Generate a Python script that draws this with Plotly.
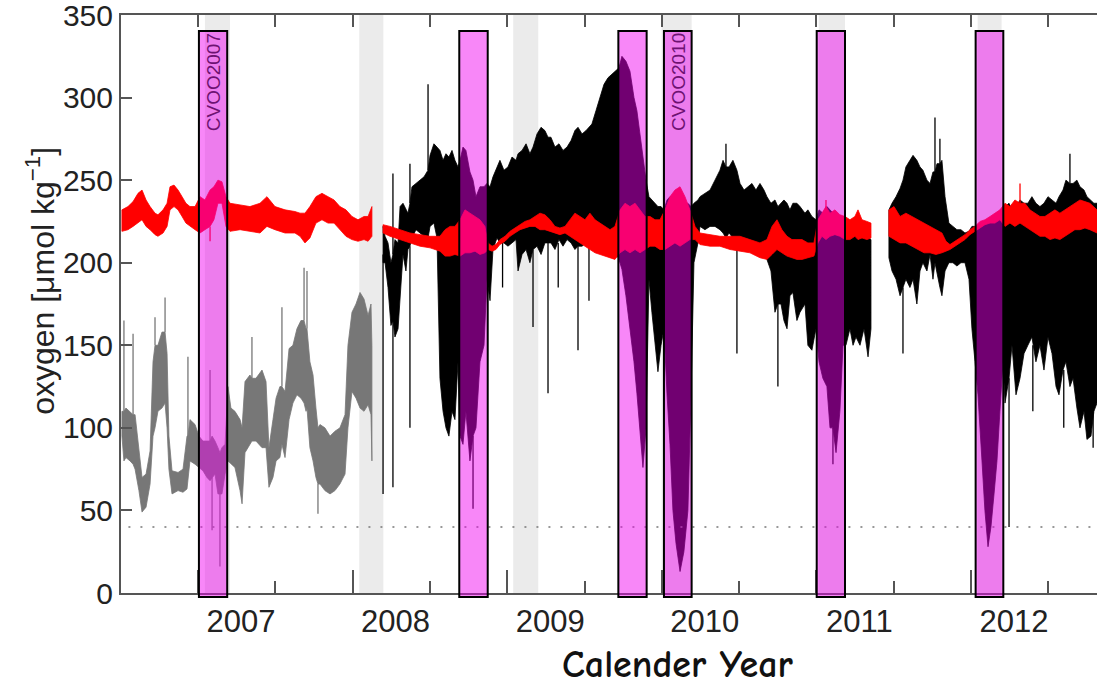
import plotly.graph_objects as go

# ---------------- data (decimal year, oxygen umol/kg) ----------------
gray_t = [2006.508, 2006.521, 2006.534, 2006.560, 2006.580, 2006.593, 2006.618, 2006.638, 2006.664, 2006.690,
          2006.709, 2006.722, 2006.741, 2006.767, 2006.787, 2006.800, 2006.812, 2006.832, 2006.871, 2006.903,
          2006.929, 2006.935, 2006.948, 2006.981, 2007.006, 2007.032, 2007.058, 2007.078, 2007.091, 2007.110,
          2007.129, 2007.142, 2007.155, 2007.175, 2007.194, 2007.213, 2007.239, 2007.272, 2007.285, 2007.304,
          2007.336, 2007.349, 2007.375, 2007.414, 2007.440, 2007.459, 2007.485, 2007.505, 2007.530, 2007.543,
          2007.563, 2007.589, 2007.614, 2007.640, 2007.666, 2007.686, 2007.699, 2007.705, 2007.724, 2007.744,
          2007.763, 2007.776, 2007.789, 2007.821, 2007.854, 2007.886, 2007.918, 2007.951, 2007.970, 2007.996,
          2008.022, 2008.048, 2008.074, 2008.100, 2008.119, 2008.125]
gray_lo = [95, 80, 82, 80, 78, 75, 62, 49, 52, 66,
           95, 100, 110, 112, 115, 100, 75, 60, 62, 61,
           63, 65, 80, 78, 76, 74, 70, 68, 70, 72,
           60, 60, 60, 72, 80, 78, 76, 62, 54, 85,
           90, 92, 92, 88, 88, 64, 70, 80, 82, 90,
           82, 105, 115, 120, 118, 115, 110, 112, 88, 80,
           70, 66, 66, 62, 60, 62, 66, 72, 100, 122,
           118, 112, 110, 114, 108, 80]
gray_hi = [110, 110, 112, 110, 108, 108, 88, 70, 72, 86,
           140, 150, 150, 158, 158, 145, 95, 74, 73, 75,
           95, 95, 105, 102, 95, 92, 92, 92, 95, 92,
           88, 85, 88, 90, 125, 112, 110, 105, 100, 128,
           132, 130, 130, 135, 128, 88, 105, 118, 125, 125,
           122, 148, 150, 160, 165, 165, 160, 160, 140, 132,
           112, 100, 102, 100, 95, 98, 100, 108, 150, 170,
           175, 182, 178, 168, 175, 150]
gray_spike_t = [2006.521, 2006.580, 2006.722, 2006.787, 2006.935, 2007.078, 2007.091, 2007.142,
                2007.349, 2007.543, 2007.686, 2007.705, 2007.776]
gray_spike_base = [110, 108, 150, 158, 95, 92, 70, 60, 130, 125, 165, 160, 66]
gray_spike_tip = [165, 157, 167, 179, 143, 135, 38, 16, 155, 173, 197, 195, 48]

red1_t = [2006.508, 2006.547, 2006.580, 2006.612, 2006.638, 2006.664, 2006.690, 2006.722, 2006.741, 2006.774,
          2006.800, 2006.819, 2006.845, 2006.871, 2006.897, 2006.922, 2006.948, 2006.981, 2007.013, 2007.045,
          2007.078, 2007.103, 2007.129, 2007.155, 2007.181, 2007.207, 2007.272, 2007.336, 2007.401, 2007.446,
          2007.498, 2007.563, 2007.627, 2007.660, 2007.692, 2007.724, 2007.763, 2007.802, 2007.841, 2007.880,
          2007.918, 2007.957, 2007.996, 2008.035, 2008.074, 2008.100, 2008.125]
red1_lo = [219, 220, 222, 224, 226, 222, 220, 217, 216, 218,
           222, 232, 234, 232, 228, 224, 222, 220, 218, 220,
           222, 226, 236, 236, 222, 219, 220, 219, 218, 222,
           220, 218, 218, 216, 212, 215, 224, 226, 224, 224,
           220, 216, 214, 213, 214, 213, 216]
red1_hi = [232, 234, 237, 242, 244, 238, 234, 230, 229, 232,
           236, 246, 247, 244, 240, 236, 234, 234, 240, 238,
           244, 246, 250, 249, 240, 236, 235, 234, 236, 240,
           234, 232, 231, 230, 230, 234, 240, 242, 240, 238,
           234, 232, 228, 226, 228, 228, 234]
red1_spike_t = [2007.078]
red1_spike_base = [222]
red1_spike_tip = [213]

black_t = [2008.197, 2008.210, 2008.229, 2008.248, 2008.261, 2008.274, 2008.294, 2008.307, 2008.326, 2008.345,
           2008.358, 2008.371, 2008.384, 2008.410, 2008.436, 2008.462, 2008.481, 2008.488, 2008.501, 2008.526,
           2008.546, 2008.565, 2008.585, 2008.604, 2008.623, 2008.643, 2008.662, 2008.682, 2008.695, 2008.714,
           2008.733, 2008.759, 2008.779, 2008.798, 2008.824, 2008.850, 2008.869, 2008.889, 2008.908, 2008.934,
           2008.953, 2008.979, 2009.005, 2009.031, 2009.057, 2009.070, 2009.096, 2009.122, 2009.147, 2009.167,
           2009.193, 2009.219, 2009.244, 2009.264, 2009.283, 2009.309, 2009.335, 2009.361, 2009.387, 2009.413,
           2009.438, 2009.458, 2009.484, 2009.510, 2009.529, 2009.548, 2009.574, 2009.600, 2009.626, 2009.652,
           2009.678, 2009.704, 2009.723, 2009.742, 2009.768, 2009.794, 2009.820, 2009.839, 2009.859, 2009.878,
           2009.898, 2009.917, 2009.936, 2009.956, 2009.975, 2009.995, 2010.014, 2010.034, 2010.053, 2010.072,
           2010.092, 2010.118, 2010.143, 2010.169, 2010.189, 2010.208, 2010.234, 2010.247, 2010.279, 2010.312,
           2010.344, 2010.376, 2010.396, 2010.415, 2010.435, 2010.460, 2010.486, 2010.506, 2010.532, 2010.557,
           2010.583, 2010.609, 2010.635, 2010.661, 2010.680, 2010.706, 2010.732, 2010.751, 2010.771, 2010.790,
           2010.810, 2010.829, 2010.848, 2010.874, 2010.894, 2010.926, 2010.945, 2010.971, 2010.997, 2011.017,
           2011.042, 2011.068, 2011.088, 2011.107, 2011.127, 2011.152, 2011.172, 2011.191, 2011.217, 2011.237,
           2011.256, 2011.282, 2011.308, 2011.334, 2011.353, 2011.410, 2011.469, 2011.489, 2011.515, 2011.541,
           2011.560, 2011.579, 2011.605, 2011.625, 2011.650, 2011.670, 2011.689, 2011.715, 2011.735, 2011.754,
           2011.767, 2011.780, 2011.799, 2011.812, 2011.832, 2011.857, 2011.883, 2011.909, 2011.935, 2011.961,
           2011.987, 2012.006, 2012.026, 2012.045, 2012.071, 2012.090, 2012.110, 2012.129, 2012.149, 2012.168,
           2012.187, 2012.207, 2012.220, 2012.246, 2012.265, 2012.291, 2012.317, 2012.343, 2012.368, 2012.394,
           2012.420, 2012.446, 2012.472, 2012.498, 2012.524, 2012.550, 2012.569, 2012.595, 2012.614, 2012.640,
           2012.660, 2012.685, 2012.705, 2012.731, 2012.750, 2012.776, 2012.795, 2012.815]
black_lo = [200, 200, 185, 162, 165, 155, 160, 175, 205, 195,
            208, 210, 215, 220, 218, 216, 214, 215, 222, 224,
            215, 130, 110, 100, 95, 110, 105, 140, 95, 90,
            110, 80, 95, 100, 140, 150, 190, 177, 208, 215,
            212, 212, 210, 212, 214, 195, 205, 208, 200, 208,
            210, 205, 212, 212, 212, 208, 214, 210, 214, 212,
            208, 210, 210, 212, 212, 216, 215, 220, 222, 218,
            210, 206, 202, 196, 180, 161, 140, 121, 100, 76,
            100, 190, 170, 150, 134, 150, 160, 120, 90, 50,
            30, 13, 25, 50, 120, 200, 212, 222, 220, 222,
            222, 220, 218, 215, 218, 215, 212, 210, 212, 210,
            208, 212, 208, 206, 202, 195, 170, 175, 175, 165,
            160, 180, 182, 165, 170, 175, 150, 147, 160, 140,
            130, 125, 100, 100, 85, 110, 150, 150, 160, 150,
            155, 150, 160, 143, 160, None, 203, 195, 190, 180,
            185, 190, 185, 190, 175, 195, 200, 195, 205, 190,
            200, 195, 185, 180, 195, 200, 200, 198, 200, 200,
            190, 160, 140, 120, 80, 50, 28, 40, 60, 80,
            110, 140, 115, 130, 150, 120, 130, 145, 150, 155,
            140, 150, 135, 155, 145, 125, 120, 135, 140, 125,
            130, 112, 100, 110, 93, 95, 110, 115]
black_hi = [222, 216, 212, 200, 205, 214, 212, 234, 236, 232,
            230, 236, 246, 248, 250, 252, 255, 256, 265, 272,
            270, 268, 262, 266, 264, 268, 262, 258, 262, 270,
            268, 255, 250, 240, 246, 246, 248, 246, 252, 258,
            262, 256, 258, 264, 262, 266, 268, 272, 266, 270,
            278, 282, 280, 276, 276, 270, 272, 268, 270, 274,
            280, 282, 278, 280, 282, 284, 292, 300, 308, 312,
            314, 316, 318, 325, 322, 316, 300, 292, 278, 262,
            250, 240, 238, 236, 234, 234, 232, 238, 240, 240,
            242, 240, 236, 236, 234, 236, 238, 240, 242, 244,
            250, 256, 262, 258, 258, 262, 256, 248, 244, 246,
            248, 244, 248, 244, 240, 236, 238, 234, 236, 238,
            236, 232, 236, 236, 234, 230, 232, 228, 226, 232,
            230, 234, 232, 230, 228, 226, 228, 218, 220, 218,
            222, 220, 218, 216, 214, None, 232, 236, 240, 245,
            250, 258, 262, 265, 262, 258, 256, 250, 248, 255,
            255, 260, 260, 262, 240, 224, 222, 220, 220, 218,
            219, 222, 222, 222, 222, 224, 226, 226, 227, 228,
            230, 232, 234, 236, 232, 234, 238, 236, 236, 240,
            236, 234, 236, 240, 238, 236, 240, 244, 250, 248,
            248, 250, 246, 244, 240, 238, 236, 236]
black_spike_t = [2008.197, 2008.261, 2008.261, 2008.371, 2008.371, 2008.488, 2008.779, 2008.970,
                 2009.167, 2009.264, 2009.330, 2009.458, 2009.529, 2010.415, 2010.486, 2010.751,
                 2011.107, 2011.560, 2011.767, 2011.799, 2012.246, 2012.400, 2012.600, 2012.640,
                 2012.790]
black_spike_base = [205, 170, 205, 210, 236, 256, 95, 212,
                    208, 212, 212, 210, 212, 258, 212, 175,
                    100, 185, 255, 260, 130, 150, 135, 248,
                    110]
black_spike_tip = [60, 64, 254, 100, 260, 308, 51, 185,
                   161, 121, 185, 147, 177, 272, 145, 125,
                   78, 145, 288, 275, 40, 110, 100, 266,
                   88]

red2_t = [2008.197, 2008.242, 2008.307, 2008.371, 2008.436, 2008.501, 2008.565, 2008.598, 2008.630, 2008.662,
          2008.695, 2008.727, 2008.759, 2008.792, 2008.824, 2008.856, 2008.876, 2008.902, 2008.927, 2008.953,
          2008.986, 2009.018, 2009.050, 2009.083, 2009.115, 2009.147, 2009.180, 2009.212, 2009.244, 2009.277,
          2009.309, 2009.341, 2009.374, 2009.406, 2009.438, 2009.471, 2009.503, 2009.535, 2009.568, 2009.600,
          2009.632, 2009.665, 2009.697, 2009.730, 2009.762, 2009.794, 2009.827, 2009.859, 2009.891, 2009.924,
          2009.956, 2009.988, 2010.021, 2010.053, 2010.085, 2010.118, 2010.150, 2010.182, 2010.215, 2010.247,
          2010.312, 2010.376, 2010.441, 2010.506, 2010.570, 2010.635, 2010.680, 2010.713, 2010.745, 2010.777,
          2010.810, 2010.842, 2010.874, 2010.907, 2010.945, 2010.984, 2011.010, 2011.036, 2011.062, 2011.088,
          2011.120, 2011.152, 2011.185, 2011.217, 2011.249, 2011.269, 2011.295, 2011.327, 2011.353, 2011.410,
          2011.469, 2011.502, 2011.541, 2011.579, 2011.618, 2011.657, 2011.696, 2011.735, 2011.773, 2011.812,
          2011.838, 2011.864, 2011.896, 2011.929, 2011.961, 2011.993, 2012.026, 2012.058, 2012.090, 2012.123,
          2012.155, 2012.187, 2012.220, 2012.252, 2012.284, 2012.317, 2012.349, 2012.381, 2012.414, 2012.446,
          2012.478, 2012.511, 2012.543, 2012.575, 2012.608, 2012.640, 2012.672, 2012.705, 2012.737, 2012.769,
          2012.815]
red2_lo = [218, 216, 214, 212, 210, 209, 207, 204, 204, 205,
           204, 206, 206, 207, 205, 206, 208, 207, 208, 211,
           213, 216, 218, 220, 221, 222, 222, 220, 220, 219,
           218, 217, 218, 216, 214, 212, 210, 208, 206, 205,
           204, 203, 202, 206, 208, 206, 208, 206, 208, 210,
           210, 208, 208, 210, 212, 210, 212, 214, 214, 211,
           210, 210, 208, 207, 206, 203, 202, 205, 208, 206,
           204, 203, 202, 202, 203, 204, 212, 216, 214, 216,
           217, 216, 214, 214, 216, 214, 215, 214, 215, None,
           216, 214, 212, 212, 210, 208, 206, 206, 205, 206,
           207, 208, 210, 212, 214, 217, 219, 221, 223, 224,
           224, 226, 222, 224, 222, 224, 222, 220, 218, 216,
           216, 214, 215, 214, 216, 218, 220, 220, 221, 220,
           218]
red2_hi = [223, 222, 220, 218, 217, 216, 216, 220, 222, 222,
           226, 232, 230, 228, 226, 222, 212, 210, 211, 214,
           216, 219, 221, 223, 225, 226, 228, 230, 229, 226,
           222, 221, 222, 226, 230, 228, 226, 230, 226, 224,
           222, 220, 222, 232, 236, 234, 236, 232, 228, 228,
           226, 226, 232, 240, 244, 246, 240, 232, 222, 218,
           217, 216, 216, 216, 214, 212, 214, 222, 226, 220,
           216, 214, 214, 214, 212, 212, 226, 230, 234, 230,
           232, 229, 228, 226, 228, 232, 226, 225, 224, None,
           232, 234, 228, 230, 228, 226, 224, 222, 220, 218,
           213, 211, 213, 215, 217, 220, 222, 225, 226, 228,
           230, 232, 236, 234, 238, 236, 236, 232, 230, 228,
           228, 230, 232, 230, 232, 234, 236, 238, 237, 236,
           232]
red2_spike_t = [2012.317, 2011.062]
red2_spike_base = [236, 232]
red2_spike_tip = [248, 238]

# cruise periods (magenta boxes) and maintenance gaps (grey bands)
cruise_start = [2007.006, 2008.690, 2009.719, 2010.014, 2011.002, 2012.030]
cruise_end = [2007.189, 2008.874, 2009.902, 2010.193, 2011.185, 2012.209]
cruise_label = ["CVOO2007", "", "", "CVOO2010", "", ""]
service_start = [2007.045, 2008.043, 2009.039, 2009.999, 2011.015, 2012.043]
service_end = [2007.207, 2008.199, 2009.201, 2010.193, 2011.185, 2012.198]
hypoxia_threshold = 40
year_ticks = [2007, 2008, 2009, 2010, 2011, 2012]
year_labels = ["2007", "2008", "2009", "2010", "2011", "2012"]
y_ticks = [0, 50, 100, 150, 200, 250, 300, 350]

X_RANGE = [2006.502, 2012.815]
FONT = "Helvetica, Arial, Liberation Sans, sans-serif"
AX = "#555555"


def band(t, lo, hi):
    """closed polygon (hi forward, lo backward) for every gap-free segment"""
    segs, cur = [], ([], [], [])
    for a, b, c in zip(t, lo, hi):
        if b is None:
            if cur[0]:
                segs.append(cur)
            cur = ([], [], [])
        else:
            cur[0].append(a); cur[1].append(b); cur[2].append(c)
    if cur[0]:
        segs.append(cur)
    xs, ys = [], []
    for st, sl, sh in segs:
        if xs:
            xs.append(None); ys.append(None)
        xs += st + st[::-1] + [st[0]]
        ys += sh + sl[::-1] + [sh[0]]
    return xs, ys


fig = go.Figure()


def add_series(t, lo, hi, st, sb, sp, color):
    xs, ys = band(t, lo, hi)
    fig.add_trace(go.Scatter(x=xs, y=ys, mode="lines", fill="toself", fillcolor=color,
                             line=dict(color=color, width=0.8), hoverinfo="skip",
                             showlegend=False))
    sx, sy = [], []
    for a, b, c in zip(st, sb, sp):
        sx += [a, a, None]
        sy += [b, c, None]
    fig.add_trace(go.Scatter(x=sx, y=sy, mode="lines", line=dict(color=color, width=1.3),
                             hoverinfo="skip", showlegend=False))


add_series(gray_t, gray_lo, gray_hi, gray_spike_t, gray_spike_base, gray_spike_tip, "#777777")
add_series(red1_t, red1_lo, red1_hi, red1_spike_t, red1_spike_base, red1_spike_tip, "#ff0000")
add_series(black_t, black_lo, black_hi, black_spike_t, black_spike_base, black_spike_tip, "#000000")
add_series(red2_t, red2_lo, red2_hi, red2_spike_t, red2_spike_base, red2_spike_tip, "#ff0000")

# hypoxia threshold dotted line
fig.add_trace(go.Scatter(x=[2006.55, X_RANGE[1]], y=[hypoxia_threshold, hypoxia_threshold],
                         mode="lines", line=dict(color="#777777", width=1.6, dash="2px,10px"),
                         hoverinfo="skip", showlegend=False))

# invisible trace so the top (mirror) axis is drawn
fig.add_trace(go.Scatter(x=[X_RANGE[0]], y=[0], xaxis="x2", mode="markers",
                         marker=dict(opacity=0), showlegend=False, hoverinfo="skip"))

shapes = []
for s, e in zip(service_start, service_end):
    shapes.append(dict(type="rect", xref="x", yref="paper", x0=s, x1=e, y0=0, y1=1,
                       fillcolor="#ebebeb", line=dict(width=0), layer="below"))
for s, e in zip(cruise_start, cruise_end):
    shapes.append(dict(type="rect", xref="x", yref="paper", x0=s, x1=e, y0=-0.007, y1=0.9725,
                       fillcolor="rgba(240,0,240,0.47)", line=dict(color="black", width=2),
                       layer="above"))

annotations = []
for s, e, lab in zip(cruise_start, cruise_end, cruise_label):
    if lab:
        annotations.append(dict(x=(s + e) / 2, y=0.972, xref="x", yref="paper", text=lab,
                                textangle=-90, showarrow=False, xanchor="center", yanchor="top",
                                font=dict(family=FONT, size=19, color="#6e1272")))
annotations.append(dict(x=-0.083, y=0.540, xref="paper", yref="paper",
                        text="oxygen [μmol kg<sup>−1</sup>]", textangle=-90, showarrow=False,
                        xanchor="center", yanchor="middle",
                        font=dict(family=FONT, size=32, color="#222222")))
annotations.append(dict(x=0.571, y=-0.125, xref="paper", yref="paper", text="<b>Calender Year</b>",
                        showarrow=False, xanchor="center", yanchor="middle",
                        font=dict(family="Comic Sans MS, Comic Neue, Noto Sans, sans-serif",
                                  size=38, color="#111111")))

fig.update_layout(
    width=1097, height=686,
    margin=dict(l=121, r=0, t=15, b=93, autoexpand=False),
    paper_bgcolor="white", plot_bgcolor="white",
    showlegend=False, hovermode=False,
    shapes=shapes, annotations=annotations,
    xaxis=dict(range=X_RANGE, tickmode="array", tickvals=year_ticks, ticktext=year_labels,
               ticks="inside", ticklen=23, tickwidth=1.5, tickcolor=AX, automargin=False,
               showline=True, linecolor=AX, linewidth=2, showgrid=False, zeroline=False,
               tickfont=dict(family=FONT, size=31, color="#222222"), ticklabelshift=43,
               ticklabeloverflow="allow",
               minor=dict(tickmode="array", tickvals=[2007.5, 2008.5, 2009.5, 2010.5, 2011.5, 2012.5],
                          ticks="inside", ticklen=12, tickwidth=1.5, tickcolor=AX)),
    xaxis2=dict(range=X_RANGE, overlaying="x", side="top", tickmode="array", automargin=False,
                tickvals=[2007, 2007.5, 2008, 2008.5, 2009, 2009.5, 2010, 2010.5, 2011, 2011.5, 2012, 2012.5],
                ticks="inside", ticklen=12, tickwidth=1.5, tickcolor=AX, showticklabels=False,
                showline=True, linecolor=AX, linewidth=2, showgrid=False, zeroline=False),
    yaxis=dict(range=[0, 350], tickmode="array", tickvals=y_ticks, ticks="inside", ticklen=11,
               tickwidth=1.5, tickcolor=AX, showline=True, linecolor=AX, linewidth=2,
               showgrid=False, zeroline=False, automargin=False, ticklabeloverflow="allow",
               tickfont=dict(family=FONT, size=30, color="#222222")),
)

fig.write_html("out.html", config={"displayModeBar": False},
               post_script="document.body.style.margin='0';")
